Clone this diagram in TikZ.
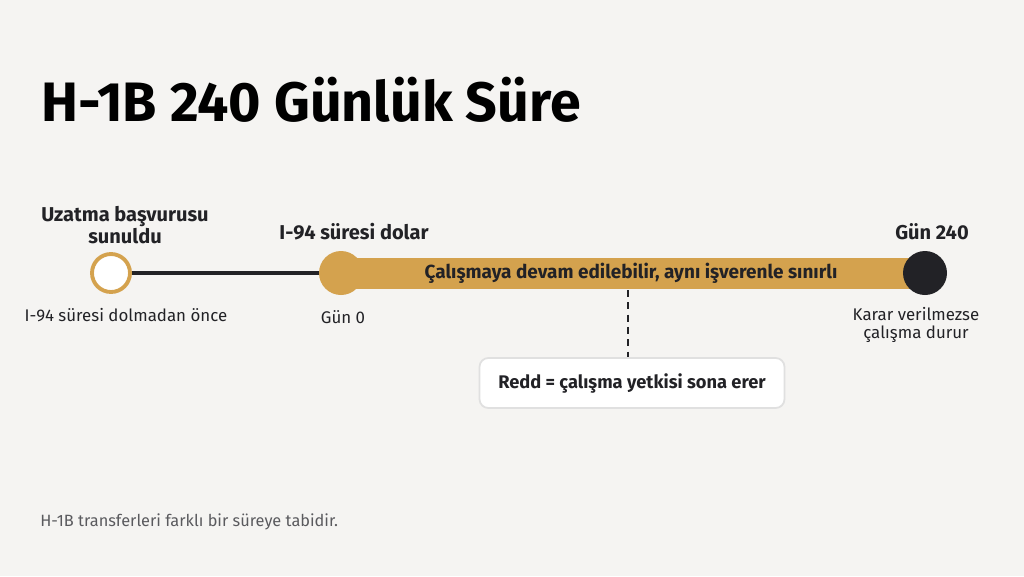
\documentclass[tikz,border=0pt]{standalone}
\usepackage{fontspec}
\setmainfont{Fira Sans}
\usetikzlibrary{positioning}
\definecolor{bgTikz}{HTML}{F5F4F2}
\definecolor{goldTikz}{HTML}{D4A24E}
\definecolor{darkTikz}{HTML}{222226}
\definecolor{greyTikz}{HTML}{5A5A5E}
\tikzset{
  dot/.style={circle, minimum size=0.88cm, inner sep=0pt},
  bold label/.style={font=\fontsize{11.4}{13}\selectfont\bfseries, align=center, text=darkTikz},
  small label/.style={font=\fontsize{9.6}{10.6}\selectfont, align=center, text=darkTikz},
}
\begin{document}
\begin{tikzpicture}[x=0.02cm, y=-0.02cm]
      \fill[bgTikz] (0, 0) rectangle (1024, 576);
      \useasboundingbox (0, 0) rectangle (1024, 576);

      \node[anchor=west, font=\fontsize{31.6}{36}\selectfont\bfseries, text=black, inner sep=0pt] (title) at (41, 100) {H-1B 240 Günlük Süre};

      % timeline points
      \node[dot, draw=goldTikz, line width=2.2pt, fill=white, minimum size=0.76cm] (filed) at (111, 273) {};
      \node[dot] (day0) at (341, 273) {};
      \node[dot] (day240) at (925, 273) {};

      \draw[darkTikz, line width=1.8pt] (filed) -- (day0.center);
      \draw[goldTikz, line width=0.62cm] (day0.center) -- (day240.center);
      \node[dot, fill=goldTikz] at (day0) {};
      \node[dot, fill=darkTikz] at (day240) {};

      \node[font=\fontsize{10.8}{12}\selectfont\bfseries, text=darkTikz] (work) at (631, 273) {Çalışmaya devam edilebilir, aynı işverenle sınırlı};

      % labels
      \node[bold label] (filedtop) at (125, 225) {Uzatma başvurusu\\sunuldu};
      \node[small label] (filedbot) at (126, 315) {I-94 süresi dolmadan önce};
      \node[bold label] (day0top) at (354, 232) {I-94 süresi dolar};
      \node[small label] (day0bot) at (343, 317) {Gün 0};
      \node[bold label] (day240top) at (932, 232) {Gün 240};
      \node[small label] (day240bot) at (916, 325) {Karar verilmezse\\çalışma durur};

      % denial box
      \coordinate (barbot) at (628, 290);
      \node[draw=black!12, line width=1pt, fill=white, rounded corners=5pt, minimum width=6.1cm, minimum height=1cm,
            font=\fontsize{10.4}{12}\selectfont\bfseries, text=darkTikz] (deny) at (632, 383) {Redd = çalışma yetkisi sona erer};
      \draw[darkTikz, line width=1pt, dash pattern=on 4pt off 3pt] (barbot) -- (barbot |- deny.north);

      \node[anchor=west, font=\fontsize{9.3}{10}\selectfont, text=greyTikz, inner sep=0pt] (note) at (40, 522) {H-1B transferleri farklı bir süreye tabidir.};
\end{tikzpicture}
\end{document}
